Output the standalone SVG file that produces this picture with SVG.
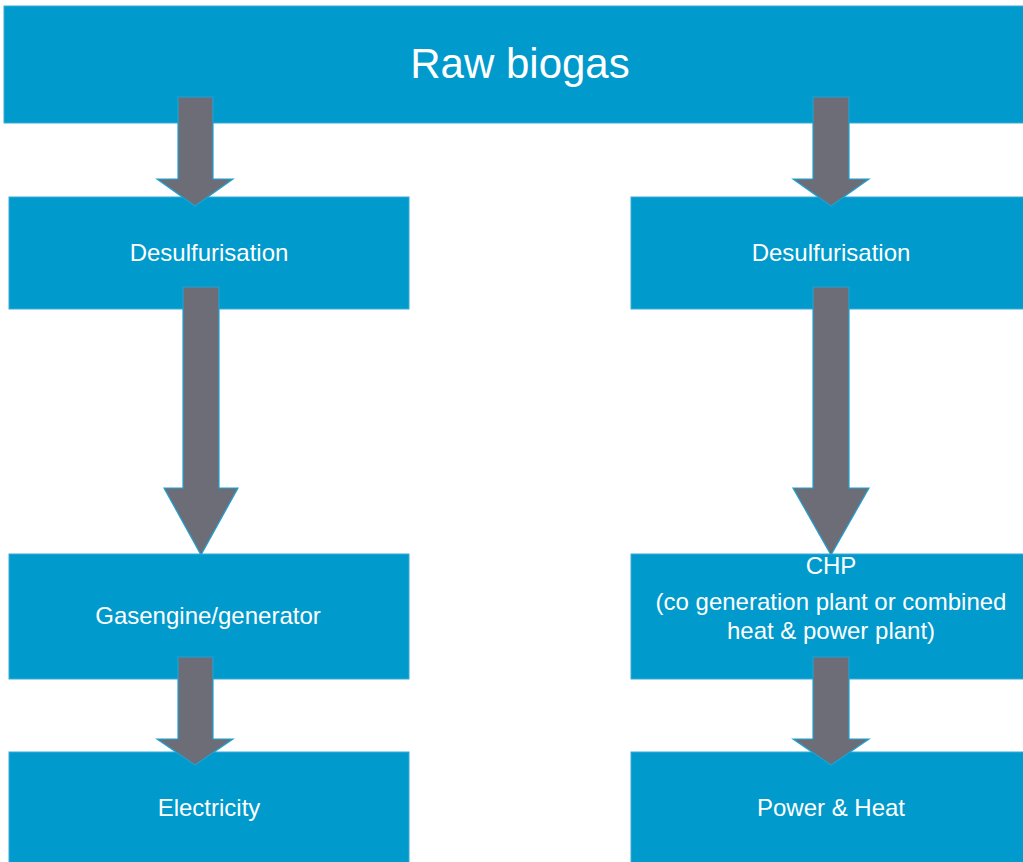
<svg xmlns="http://www.w3.org/2000/svg" width="1023" height="862" viewBox="0 0 1023 862">
<style>
.box{fill:#009acc;stroke:#3aaad6;stroke-width:1}
.t{fill:#ffffff;font-family:"Liberation Sans",Arial,sans-serif;text-anchor:middle}
.s{font-size:24px}
.arr{fill:#6d6d78;stroke:#1ea2d2;stroke-width:1.2;stroke-linejoin:miter}
</style>
<rect width="1023" height="862" fill="#ffffff"/>
<g id="raw-biogas"><rect class="box" x="4" y="6" width="1030" height="117"/><text class="t" x="520" y="78" font-size="42">Raw biogas</text></g>
<g id="desulf-left"><rect class="box" x="9" y="197" width="400" height="112"/><text class="t s" x="209" y="261">Desulfurisation</text></g>
<g id="desulf-right"><rect class="box" x="631" y="197" width="400" height="112"/><text class="t s" x="831" y="261">Desulfurisation</text></g>
<g id="gasengine"><rect class="box" x="9" y="554" width="400" height="125"/><text class="t s" x="208" y="624">Gasengine/generator</text></g>
<g id="chp"><rect class="box" x="631" y="554" width="400" height="125"/><text class="t s" x="831" y="574">CHP</text><text class="t s" x="831" y="610">(co generation plant or combined</text><text class="t s" x="831" y="639">heat &amp; power plant)</text></g>
<g id="electricity"><rect class="box" x="9" y="752" width="400" height="115"/><text class="t s" x="209" y="816">Electricity</text></g>
<g id="power-heat"><rect class="box" x="631" y="752" width="400" height="115"/><text class="t s" x="831" y="816">Power &amp; Heat</text></g>
<g id="connectors">
<polygon class="arr" points="178,97 213,97 213,179 233,179 195,206 157,179 178,179"/>
<polygon class="arr" points="813,97 849,97 849,179 869,179 831,206 793,179 813,179"/>
<polygon class="arr" points="183,287 219,287 219,488 238,488 201,555 164,488 183,488"/>
<polygon class="arr" points="813,287 849,287 849,488 869,488 831,555 793,488 813,488"/>
<polygon class="arr" points="178,657 213,657 213,739 233,739 195,765 157,739 178,739"/>
<polygon class="arr" points="813,657 849,657 849,739 869,739 831,765 793,739 813,739"/>
</g>
</svg>
